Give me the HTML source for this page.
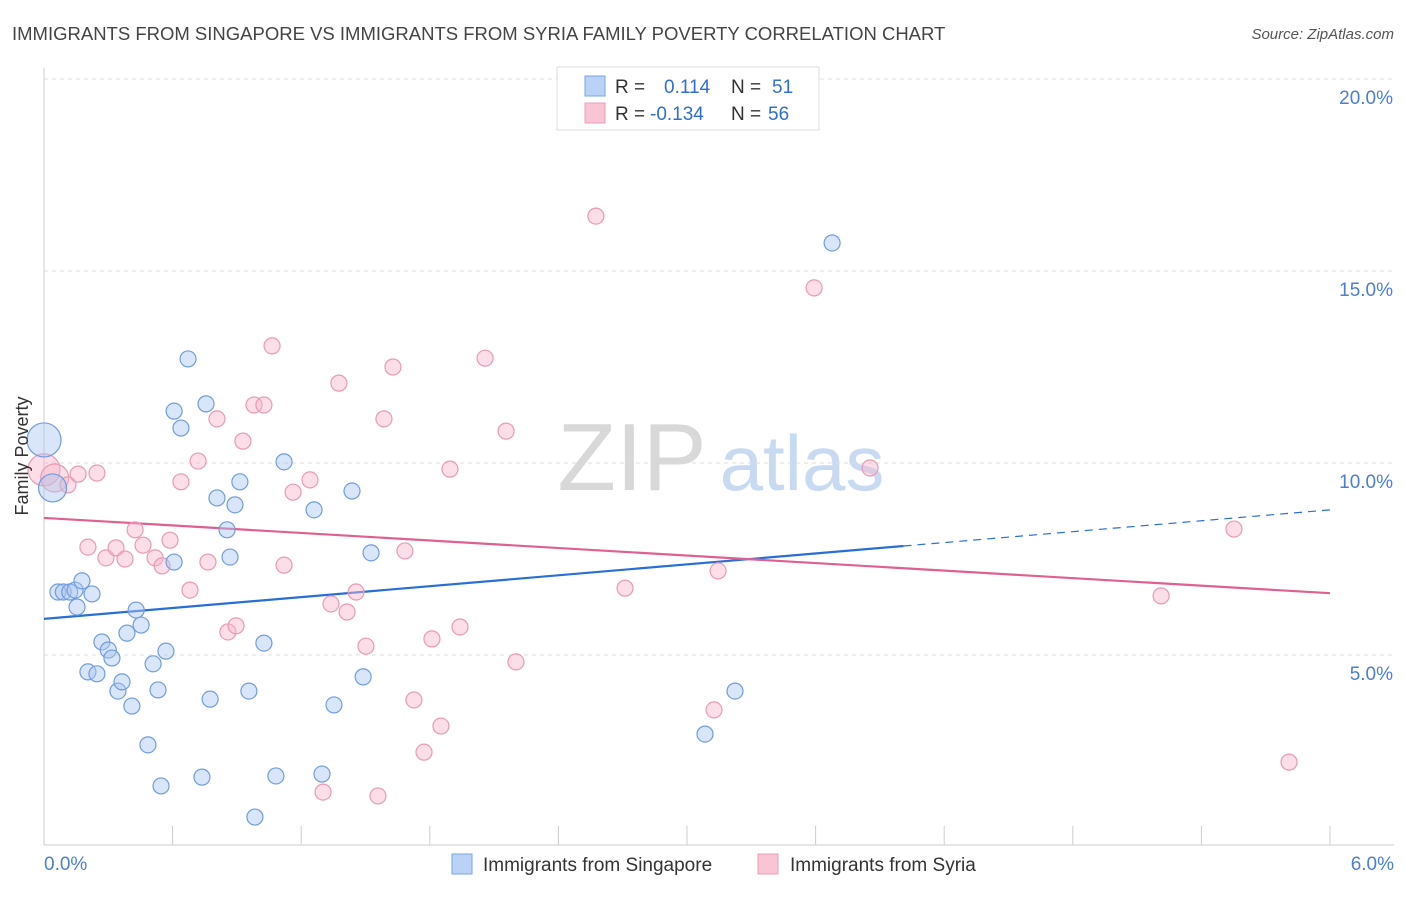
<!DOCTYPE html>
<html><head><meta charset="utf-8"><style>
body{margin:0;background:#fff;font-family:"Liberation Sans",sans-serif;}
svg text{font-family:"Liberation Sans",sans-serif;}
</style></head><body>
<svg id="chart" width="1406" height="892" viewBox="0 0 1406 892" xmlns="http://www.w3.org/2000/svg">
<text x="12" y="40" font-size="18.5" fill="#444">IMMIGRANTS FROM SINGAPORE VS IMMIGRANTS FROM SYRIA FAMILY POVERTY CORRELATION CHART</text>
<text x="1394" y="39" font-size="15" fill="#555" text-anchor="end" font-style="italic">Source: ZipAtlas.com</text>
<g>
<text x="632" y="490" font-size="96" fill="#d8d8d8" text-anchor="middle" font-family="Liberation Serif,serif">ZIP</text>
<text x="802" y="490" font-size="78" fill="#c8daf2" text-anchor="middle">atlas</text>
</g>
<g id="grid"></g><g id="axes"></g><g id="trends"></g><g id="points"></g>
<g>
<rect x="557" y="67" width="262" height="63" fill="#fff" stroke="#ddd"/>
<rect x="585" y="76" width="20" height="20" fill="#b9d2f5" stroke="#7aa6e4"/>
<rect x="585" y="103" width="20" height="20" fill="#f9c5d5" stroke="#eba0b8"/>
<text x="615" y="93" font-size="19" fill="#333">R =</text>
<text x="664" y="93" font-size="19" fill="#2e6fd0">0.114</text>
<text x="731" y="93" font-size="19" fill="#333">N =</text>
<text x="772" y="93" font-size="19" fill="#2e6fd0">51</text>
<text x="615" y="120" font-size="19" fill="#333">R =</text>
<text x="650" y="120" font-size="19" fill="#2e6fd0">-0.134</text>
<text x="731" y="120" font-size="19" fill="#333">N =</text>
<text x="768" y="120" font-size="19" fill="#2e6fd0">56</text>
</g>
<g>
<rect x="452" y="854" width="20" height="20" fill="#b9d2f5" stroke="#7aa6e4"/>
<text x="483" y="871" font-size="19" fill="#333">Immigrants from Singapore</text>
<rect x="758" y="854" width="20" height="20" fill="#f9c5d5" stroke="#eba0b8"/>
<text x="790" y="871" font-size="19" fill="#333">Immigrants from Syria</text>
</g>
<text transform="translate(28,456) rotate(-90)" font-size="18" fill="#333" text-anchor="middle">Family Poverty</text>
</svg>
<script>
const yTicks=[5,10,15,20];
const yTickLabels=["5.0%","10.0%","15.0%","20.0%"];
const xLabels=["0.0%","6.0%"];
const blueX=[0.00,0.04,0.065,0.09,0.12,0.145,0.177,0.154,0.224,0.205,0.247,0.27,0.30,0.317,0.345,0.364,0.387,0.41,0.43,0.453,0.485,0.509,0.532,0.546,0.569,0.607,0.607,0.639,0.672,0.737,0.756,0.775,0.807,0.854,0.868,0.891,0.914,0.956,1.026,1.082,1.12,1.26,1.297,1.353,1.437,1.489,1.526,0.984,3.084,3.224,3.677];
const blueY=[10.60,9.35,6.64,6.64,6.64,6.69,6.93,6.25,6.59,4.56,4.51,5.34,5.13,4.92,4.06,4.30,5.57,3.67,6.17,5.78,2.66,4.77,4.09,1.59,5.10,11.35,7.42,10.91,12.71,1.82,11.54,3.85,9.09,8.26,7.55,8.91,9.51,4.06,5.31,1.85,10.03,8.78,1.90,3.70,9.27,4.43,7.66,0.78,2.94,4.06,15.73];
const pinkX=[0.0,0.05,0.112,0.159,0.247,0.205,0.289,0.336,0.378,0.425,0.462,0.518,0.551,0.588,0.639,0.681,0.719,0.765,0.807,0.858,0.896,0.928,0.98,1.026,1.064,1.12,1.162,1.241,1.339,1.376,1.414,1.456,1.502,1.558,1.586,1.628,1.684,1.726,1.773,1.81,1.852,1.894,1.941,2.058,2.156,2.202,2.575,2.711,3.126,3.145,3.593,3.854,5.212,5.552,5.809,1.302];
const pinkY=[9.82,9.61,9.43,9.71,9.74,7.81,7.53,7.79,7.50,8.26,7.86,7.53,7.32,7.99,9.51,6.69,10.05,7.42,11.15,5.60,5.76,10.57,11.51,11.51,13.05,7.34,9.24,9.56,6.33,12.08,6.12,6.64,5.23,1.33,11.15,12.50,7.71,3.83,2.47,5.42,3.15,9.84,5.73,12.73,10.83,4.82,16.43,6.74,3.57,7.19,14.56,9.87,6.54,8.28,2.21,1.43];
const blueR=[17,14];const pinkR=[16,14];
const blueTrend=[5.94,8.78];const pinkTrend=[8.57,6.61];const blueSolidEnd=4.01;
const NS="http://www.w3.org/2000/svg";
const X=v=>44+v*(1286/6), Y=v=>847-v*38.4;
function mk(tag,attrs,parent){const e=document.createElementNS(NS,tag);for(const k in attrs)e.setAttribute(k,attrs[k]);document.getElementById(parent).appendChild(e);return e;}
yTicks.forEach((t,i)=>{
 const l=mk('line',{x1:44,x2:1394,y1:Y(t),y2:Y(t),stroke:'#ddd','stroke-dasharray':'4,4'},'grid');
 
 
 const tx=mk('text',{x:1393,y:Y(t)+25,'font-size':19,fill:'#4a80d0','text-anchor':'end'},'grid');
 tx.textContent=yTickLabels[i];
 
 
});
const ax=mk('line',{x1:44,x2:44,y1:68,y2:845,stroke:'#ccc'},'axes');


const bx=mk('line',{x1:44,x2:1394,y1:845,y2:845,stroke:'#ccc'},'axes');


for(let i=0;i<=10;i++){const t=mk('line',{x1:X(i*0.6),x2:X(i*0.6),y1:826,y2:845,stroke:'#ccc'},'axes');
 
 }
[[0,'start',44],[6,'end',1394]].forEach((d,i)=>{const t=mk('text',{x:d[2],y:870,'font-size':19,fill:'#4a80d0','text-anchor':d[1]},'axes');t.textContent=xLabels[i];
 
 });
const bAt=x=>blueTrend[0]+(blueTrend[1]-blueTrend[0])*x/6;
const pAt=x=>pinkTrend[0]+(pinkTrend[1]-pinkTrend[0])*x/6;
function dots(xs,ys,rs,fill,stroke,name){xs.forEach((x,i)=>{const c=mk('circle',{cx:X(x),cy:Y(ys[i]),r:rs[i]||8,fill:fill,stroke:stroke,'stroke-width':1.2},'points');
 
 });}
dots(pinkX,pinkY,pinkR,'rgba(246,182,202,0.45)','#e99ab5','syria-point');
dots(blueX,blueY,blueR,'rgba(170,198,240,0.45)','#6f9de0','singapore-point');
const l1=mk('line',{x1:X(0),y1:Y(bAt(0)),x2:X(blueSolidEnd),y2:Y(bAt(blueSolidEnd)),stroke:'#2a6fd6','stroke-width':2.2},'trends');


const l2=mk('line',{x1:X(blueSolidEnd),y1:Y(bAt(blueSolidEnd)),x2:X(6),y2:Y(bAt(6)),stroke:'#2a6fd6','stroke-width':1.2,'stroke-dasharray':'8,6'},'trends');


const l3=mk('line',{x1:X(0),y1:Y(pAt(0)),x2:X(6),y2:Y(pAt(6)),stroke:'#e0608f','stroke-width':2.2},'trends');


</script>
</body></html>
